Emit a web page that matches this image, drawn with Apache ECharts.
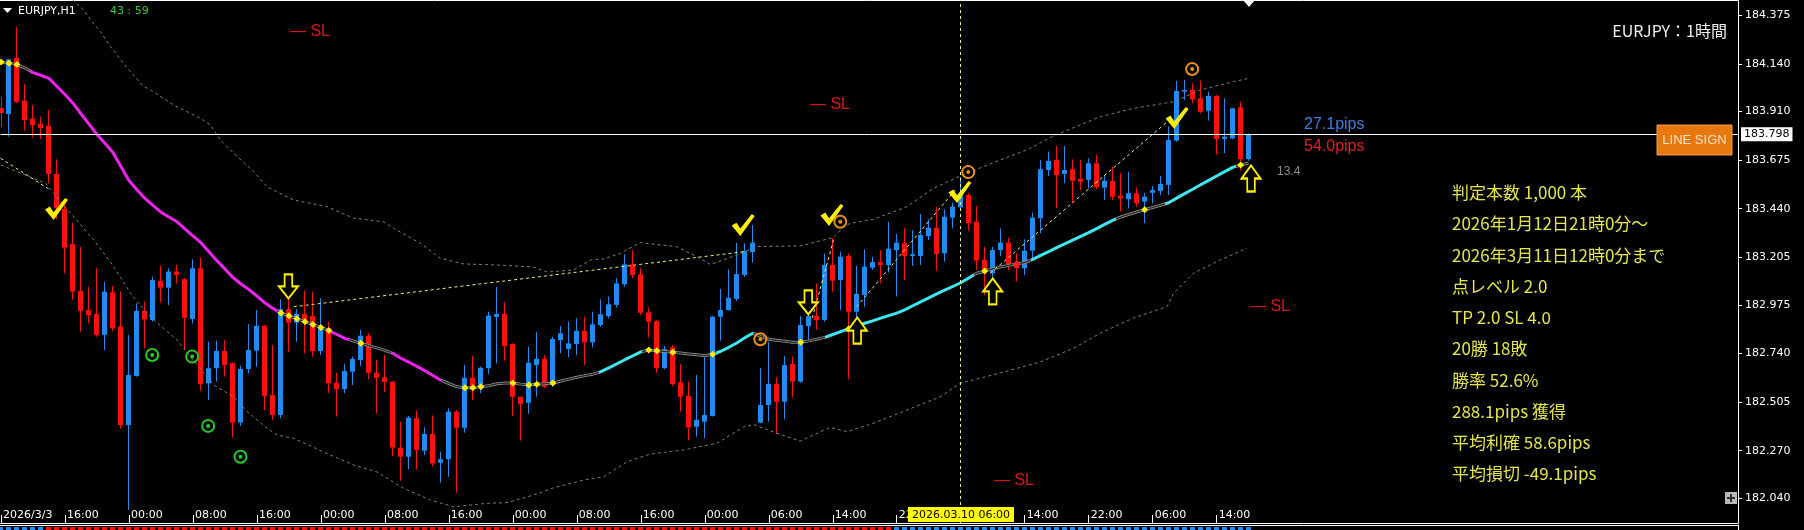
<!DOCTYPE html>
<html><head><meta charset="utf-8">
<script src="https://cdn.jsdelivr.net/npm/echarts/dist/echarts.min.js"></script>
<style>html,body{margin:0;padding:0;background:#000;overflow:hidden}#c{width:1804px;height:530px}</style>
</head><body><div id="c"></div>
<script>
// ---------- DATA ----------
const symbolTitle = 'EURJPY,H1';
const countdown = '43 : 59';
const chartTitle = 'EURJPY：1時間';
const opens=[183.927,183.898,184.169,183.962,183.875,183.850,183.840,183.608,183.439,183.269,
183.042,182.950,182.931,182.830,183.036,182.870,182.394,182.631,182.946,182.902,
183.091,183.058,183.136,183.099,182.907,183.152,182.596,182.669,182.752,182.693,
182.406,182.665,182.754,182.874,182.539,182.443,182.954,182.889,182.931,182.921,
182.752,182.862,182.599,182.568,182.652,182.709,182.826,182.647,182.625,182.604,
182.285,182.241,182.427,182.270,182.351,182.212,182.229,182.459,182.381,182.623,
182.580,182.669,182.917,182.931,182.786,182.531,182.502,182.684,182.714,182.588,
182.805,182.762,182.786,182.849,182.794,182.878,182.921,182.975,183.075,183.171,
183.123,182.939,182.897,182.669,182.770,182.601,182.535,182.386,182.410,182.438,
182.918,182.950,183.004,183.120,183.231,182.406,182.491,182.593,182.507,182.689,
182.604,182.873,182.921,182.902,183.168,183.095,183.211,182.942,183.023,183.155,
183.182,183.168,183.240,183.273,183.211,183.211,183.308,183.348,183.224,183.397,
183.447,183.506,183.377,183.192,183.128,183.240,183.276,183.171,183.152,183.237,
183.394,183.627,183.676,183.608,183.631,183.584,183.579,183.660,183.542,183.574,
183.503,183.486,183.515,183.474,183.517,183.526,183.555,183.769,184.006,184.014,
183.974,183.914,183.985,183.777,183.780,183.930,183.680];
const highs=[183.980,184.165,184.318,184.043,183.941,183.885,183.917,183.679,183.474,183.372,
183.256,183.063,183.152,183.087,183.066,183.039,182.830,182.983,182.991,183.111,
183.165,183.152,183.168,183.105,183.195,183.205,182.797,182.802,182.805,182.697,
182.681,182.883,182.950,182.878,182.781,183.002,183.095,182.954,183.044,183.039,
183.007,182.894,182.647,182.689,182.725,182.854,182.838,182.709,182.733,182.606,
182.410,182.438,182.464,182.383,182.441,182.265,182.475,182.467,182.684,182.728,
182.676,182.942,183.063,182.988,182.790,182.533,182.773,182.845,182.733,182.821,
182.873,182.894,182.910,182.918,182.942,183.002,183.015,183.104,183.220,183.240,
183.152,182.963,182.900,182.776,182.781,182.689,182.604,182.636,182.728,182.920,
183.052,183.147,183.276,183.273,183.361,182.669,182.797,182.625,182.728,182.725,
182.921,183.018,183.076,183.224,183.297,183.232,183.224,183.163,183.244,183.208,
183.240,183.377,183.318,183.345,183.337,183.414,183.389,183.450,183.437,183.469,
183.593,183.515,183.453,183.256,183.256,183.345,183.300,183.224,183.292,183.421,
183.676,183.716,183.743,183.743,183.679,183.676,183.684,183.700,183.603,183.643,
183.614,183.619,183.542,183.515,183.550,183.598,183.837,184.057,184.062,184.046,
184.059,184.006,183.990,183.974,183.928,183.957,183.803];
const lows=[183.835,183.788,183.950,183.817,183.785,183.776,183.563,183.389,183.128,182.999,
182.845,182.886,182.821,182.757,182.849,182.378,181.985,182.628,182.765,182.894,
182.986,182.975,183.079,182.757,182.886,182.560,182.515,182.604,182.628,182.335,
182.390,182.644,182.676,182.467,182.419,182.427,182.749,182.797,182.741,182.725,
182.733,182.548,182.435,182.548,182.588,182.680,182.615,182.451,182.555,182.245,
182.125,182.180,182.180,182.249,182.193,182.115,182.144,182.067,182.357,182.515,
182.548,182.641,182.693,182.705,182.439,182.319,182.448,182.531,182.572,182.580,
182.741,182.722,182.733,182.684,182.770,182.870,182.910,182.963,183.063,183.104,
182.926,182.818,182.647,182.664,182.583,182.459,182.322,182.338,182.330,182.435,
182.802,182.948,182.995,183.111,183.179,182.403,182.410,182.351,182.422,182.528,
182.599,182.797,182.854,182.894,183.039,182.950,182.615,182.838,182.966,183.144,
183.079,183.131,183.015,183.095,183.163,183.168,183.289,183.140,183.184,183.345,
183.443,183.334,183.144,183.023,183.099,183.211,183.144,183.087,183.120,183.192,
183.321,183.598,183.442,183.563,183.469,183.530,183.539,183.534,183.482,183.482,
183.426,183.442,183.450,183.370,183.466,183.506,183.506,183.764,183.966,183.950,
183.901,183.866,183.700,183.708,183.776,183.624,183.672];
const closes=[183.903,184.162,183.957,183.869,183.845,183.830,183.608,183.442,183.252,183.039,
182.947,182.926,182.830,183.039,182.862,182.394,182.636,182.946,182.905,183.095,
183.058,183.136,183.120,182.912,183.152,182.593,182.669,182.752,182.684,182.406,
182.665,182.757,182.874,182.535,182.443,182.954,182.889,182.931,182.894,182.752,
182.862,182.596,182.568,182.655,182.714,182.826,182.647,182.623,182.602,182.285,
182.241,182.430,182.274,182.351,182.209,182.229,182.459,182.381,182.623,182.580,
182.671,182.923,182.931,182.776,182.531,182.496,182.696,182.714,182.580,182.810,
182.838,182.789,182.849,182.794,182.881,182.930,182.978,183.079,183.171,183.120,
182.937,182.894,182.669,182.762,182.593,182.531,182.383,182.419,182.443,182.918,
182.950,183.010,183.124,183.236,183.276,182.491,182.593,182.507,182.684,182.604,
182.878,182.921,182.902,183.168,183.092,183.208,182.942,183.028,183.160,183.182,
183.168,183.247,183.276,183.211,183.220,183.313,183.348,183.221,183.401,183.450,
183.506,183.370,183.189,183.128,183.240,183.276,183.173,183.152,183.237,183.397,
183.631,183.671,183.603,183.627,183.575,183.571,183.660,183.544,183.575,183.498,
183.490,183.515,183.466,183.498,183.530,183.560,183.772,184.009,184.014,183.969,
183.909,183.985,183.777,183.788,183.925,183.680,183.798];
const maValues=[184.149,184.143,184.137,184.120,184.098,184.085,184.070,184.031,183.992,183.950,
183.899,183.849,183.799,183.756,183.712,183.644,183.576,183.532,183.490,183.456,
183.423,183.400,183.377,183.343,183.309,183.276,183.232,183.189,183.149,183.108,
183.076,183.049,183.018,182.985,182.958,182.936,182.922,182.908,182.894,182.880,
182.866,182.851,182.832,182.813,182.801,182.790,182.778,182.767,182.755,182.741,
182.717,182.698,182.678,182.657,182.634,182.611,182.595,182.579,182.575,182.575,
182.579,182.584,182.594,182.597,182.597,182.592,182.588,182.591,182.594,182.597,
182.607,182.616,182.625,182.633,182.640,182.652,182.671,182.690,182.710,182.729,
182.748,182.757,182.753,182.750,182.746,182.742,182.738,182.734,182.729,182.736,
182.751,182.770,182.791,182.816,182.838,182.823,182.809,182.804,182.799,182.794,
182.794,182.801,182.809,182.818,182.832,182.846,182.860,182.874,182.886,182.898,
182.911,182.923,182.935,182.951,182.971,182.990,183.009,183.028,183.046,183.064,
183.082,183.105,183.128,183.139,183.149,183.159,183.166,183.173,183.180,183.195,
183.214,183.233,183.252,183.270,183.288,183.306,183.324,183.344,183.364,183.384,
183.400,183.412,183.424,183.435,183.446,183.457,183.469,183.491,183.513,183.534,
183.556,183.577,183.598,183.619,183.640,183.651,183.661];
// MA trend state by bar range: [fromBar, toBar, state]
const maTrend=[[-1,3.5,'flat'],[3.5,34.5,'down'],[34.5,41,'flat'],[41,43.5,'down'],[43.5,48.8,'flat'],
[48.8,55.2,'down'],[55.2,74.8,'flat'],[74.8,80.2,'up'],[80.2,89.4,'flat'],[89.4,94,'up'],[94,103,'flat'],
[103,121.7,'up'],[121.7,128.8,'flat'],[128.8,139.4,'up'],[139.4,145.6,'flat'],[145.6,154.4,'up'],[154.4,200,'flat']];
const upperBand=[[8,184.497],[9,184.449],[10.31,184.401],[11.56,184.336],[12.44,184.296],[13.69,184.223],[15.78,184.120],
[17.85,184.030],[18.69,184.014],[21.6,183.941],[24.94,183.877],[26.19,183.845],[27.44,183.772],[29.1,183.708],[31.6,183.619],
[33.28,183.546],[34.53,183.521],[36.6,183.482],[40.78,183.450],[44.1,183.394],[46.19,183.385],[47.85,183.376],[49.1,183.345],
[52.44,183.273],[54.94,183.200],[57.85,183.173],[62.03,183.168],[66.6,183.158],[68.28,183.134],[71.6,183.144],[73.69,183.192],
[75.35,183.197],[77.44,183.224],[79.94,183.276],[84.53,183.256],[87.03,183.208],[88.69,183.170],[92.03,183.216],[94.53,183.257],
[99.94,183.260],[104.1,183.301],[105.35,183.353],[106.19,183.369],[109.1,183.389],[113.28,183.450],[116.6,183.539],[119.94,183.598],
[124.94,183.676],[128.28,183.724],[131.6,183.792],[137.44,183.885],[141.6,183.925],[146.6,183.957],[149.94,184.014],[154.1,184.054],[156,184.070]];
const lowerBand=[[0,183.651],[5.56,183.563],[8.69,183.418],[11.6,183.289],[14.1,183.160],[16.19,183.031],[18.28,182.934],[19.1,182.902],
[22.03,182.805],[23.69,182.725],[26.6,182.588],[29.1,182.531],[30.78,182.459],[33.28,182.378],[34.53,182.346],[36.6,182.330],
[41.19,182.249],[44.1,182.201],[47.03,182.167],[50.35,182.088],[53.69,182.032],[56.6,181.999],[60.78,182.016],[63.28,182.019],
[66.6,182.056],[69.1,182.091],[72.85,182.128],[75.35,182.144],[78.28,182.217],[81.19,182.254],[85.35,182.274],[89.53,182.306],
[92.85,182.385],[94.1,182.397],[97.03,182.354],[99.94,182.317],[103.69,182.383],[105.78,182.362],[109.1,182.403],[113.28,182.467],
[117.44,182.531],[119.94,182.596],[124.94,182.646],[129.94,182.699],[134.1,182.765],[137.44,182.838],[141.6,182.912],[145.78,182.966],
[146.6,183.031],[149.1,183.128],[152.44,183.192],[155.78,183.249]];
const tradeLines=[[[-0.06,183.684],[6.19,183.530]],[[36.6,182.966],[92.85,183.232]],[[101.44,182.912],[104.19,183.303]],
[[107.0,182.966],[119.3,183.530]],[[123.7,183.129],[145.8,183.859]]];
const checkMarks=[[6.94,183.439],[92.8,183.361],[103.9,183.410],[119.9,183.521],[147.06,183.879]];
const orangeCircles=[[94.94,182.809],[104.94,183.377],[120.94,183.617],[148.94,184.115]];
const greenCircles=[[18.9,182.733],[23.9,182.725],[25.9,182.390],[29.94,182.241]];
const downArrows=[[35.94,183.064],[100.94,182.987]];
const upArrows=[[107.06,182.851],[124.0,183.040],[156.3,183.586]];
const signalBars=[0,1,2,35,36,37,38,39,40,41,45,58,59,60,64,66,67,69,81,82,84,89,100,106,123,143,155];
const redDotBars=[127];
const stripSegments=[[0,5,1],[6,111,-1],[112,156,1]];
const timeTickBars=[0,8,16,24,32,40,48,56,64,72,80,88,96,104,112,120,128,136,144,152];
const timeTickLabels=['2026/3/3','16:00','00:00','08:00','16:00','00:00','08:00','16:00','00:00','08:00','16:00','00:00','06:00','14:00','22:00','06:00','14:00','22:00','06:00','14:00'];
const priceTicks=[184.375,184.140,183.910,183.675,183.440,183.205,182.975,182.740,182.505,182.270,182.040];
const currentPrice=183.798;
const crosshairBar=120, crosshairLabel='2026.03.10 06:00';
const slLabels=['— SL','— SL','— SL','— SL'];
const pipsUp='27.1pips', pipsDown='54.0pips', spreadText='13.4';
const statsLines=['判定本数 1,000 本','2026年1月12日21時0分～','2026年3月11日12時0分まで','点レベル 2.0','TP 2.0 SL 4.0','20勝 18敗','勝率 52.6%','288.1pips 獲得','平均利確 58.6pips','平均損切 -49.1pips'];

// ---------- STYLE ----------
const BLUE='#1e8cf0', RED='#ff1010', MAG='#ee22ee', CYAN='#3ee6f0', GRAY='#858585', YEL='#ffee00', ORANGE='#e8901e', GREEN='#22cc22';
const trendColor={down:MAG,up:CYAN,flat:GRAY};
const innerColor={down:'rgba(0,0,0,0)',up:'rgba(0,0,0,0)',flat:'#2a2a2a'};
const AX='"DejaVu Sans", sans-serif';
const XMIN=-0.0625, XMAX=217.1875, YMIN=181.9206, YMAX=184.449;

const candleData=opens.map((o,i)=>[i,o,closes[i],lows[i],highs[i]]);
const stripData=[];
stripSegments.forEach(s=>{for(let i=s[0];i<=s[1];i++)stripData.push([i,s[2]]);});
const maData=maValues.map((v,i)=>[i,v]);

const series=[];
series.push({type:'custom',name:'candles',xAxisIndex:0,yAxisIndex:0,z:2,clip:true,data:candleData,encode:{x:0,y:[1,2,3,4]},
 renderItem:(params,api)=>{
  const i=api.value(0),o=api.value(1),c=api.value(2),l=api.value(3),h=api.value(4);
  const px=api.coord([i,o]);const x=Math.floor(px[0]);
  const yO=px[1],yC=api.coord([i,c])[1],yL=api.coord([i,l])[1],yH=api.coord([i,h])[1];
  const col=c>=o?BLUE:RED;const top=Math.min(yO,yC),bot=Math.max(yO,yC);
  return {type:'group',children:[
   {type:'line',shape:{x1:x+0.5,y1:yH,x2:x+0.5,y2:yL},style:{stroke:col,lineWidth:1}},
   {type:'rect',shape:{x:x-2,y:top,width:5,height:Math.max(bot-top,1.5)},style:{fill:col}}]};
 }});
series.push({type:'line',name:'ma',xAxisIndex:0,yAxisIndex:0,z:3,symbol:'none',data:maData,lineStyle:{width:3},
 markLine:{silent:true,symbol:['none','none'],animation:false,data:[
  {yAxis:currentPrice,lineStyle:{color:'#fff',width:1,type:'solid'},label:{show:true,position:'end',distance:3,formatter:currentPrice.toFixed(3),
   backgroundColor:'#fff',color:'#000',padding:[2,3,1,3],fontSize:11,fontFamily:AX}},
  {xAxis:crosshairBar,lineStyle:{color:'#eeee90',width:1,type:[3,3]},label:{show:false}}]}});
series.push({type:'line',name:'maInner',xAxisIndex:0,yAxisIndex:0,z:3,symbol:'none',data:maData,lineStyle:{width:1}});
series.push({type:'line',name:'upper',z:3,symbol:'none',data:upperBand,lineStyle:{color:'#7d7d7d',width:1,type:[3,3]}});
series.push({type:'line',name:'lower',z:3,symbol:'none',data:lowerBand,lineStyle:{color:'#7d7d7d',width:1,type:[3,3]}});
tradeLines.forEach(t=>series.push({type:'line',z:3,symbol:'none',data:t,lineStyle:{color:'#f4f070',width:1,type:[3,3]}}));
const checkPath='path://M0,12 L5,9 L9,15 L21,0 L24,2 L9,23 Z';
const downPath='path://M6,0 L14,0 L14,13 L20,13 L10,26 L0,13 L6,13 Z';
const upPath='path://M10,0 L20,13 L14,13 L14,26 L6,26 L6,13 L0,13 Z';
series.push({type:'scatter',z:5,data:checkMarks,symbol:checkPath,symbolSize:[23,22],itemStyle:{color:YEL,opacity:1}});
series.push({type:'scatter',z:5,data:orangeCircles,symbol:'circle',symbolSize:12,itemStyle:{color:'rgba(0,0,0,0)',borderColor:ORANGE,borderWidth:2,opacity:1}});
series.push({type:'scatter',z:5,data:orangeCircles,symbol:'circle',symbolSize:4,itemStyle:{color:ORANGE,opacity:1}});
series.push({type:'scatter',z:5,data:greenCircles,symbol:'circle',symbolSize:12,itemStyle:{color:'rgba(0,0,0,0)',borderColor:GREEN,borderWidth:2,opacity:1}});
series.push({type:'scatter',z:5,data:greenCircles,symbol:'circle',symbolSize:4,itemStyle:{color:GREEN,opacity:1}});
series.push({type:'scatter',z:5,data:downArrows,symbol:downPath,symbolSize:[19,24],itemStyle:{color:'#000',borderColor:YEL,borderWidth:2,opacity:1}});
series.push({type:'scatter',z:5,data:upArrows,symbol:upPath,symbolSize:[19,26],itemStyle:{color:'#000',borderColor:YEL,borderWidth:2,opacity:1}});
series.push({type:'scatter',z:4,data:signalBars.map(b=>[b,maValues[b]]),symbol:'diamond',symbolSize:7,itemStyle:{color:YEL,opacity:1}});
series.push({type:'scatter',z:4,data:redDotBars.map(b=>[b,maValues[b]]),symbol:'diamond',symbolSize:8,itemStyle:{color:'#ff2020',opacity:1}});
series.push({type:'custom',name:'strip',xAxisIndex:2,yAxisIndex:1,z:2,data:stripData,encode:{x:0},
 renderItem:(params,api)=>{const i=api.value(0),s=api.value(1);const x=Math.floor(api.coord([i,0.5])[0]);const cs=params.coordSys;
  return {type:'rect',shape:{x:x-2,y:cs.y+2,width:5,height:cs.height-2},style:{fill:s>0?BLUE:RED}};}});

const option={
 backgroundColor:'#000',animation:false,
 grid:[{left:0,top:0,width:1738,height:523},{left:0,top:525,width:1738,height:5}],
 visualMap:[
  {type:'piecewise',show:false,seriesIndex:1,dimension:0,
   pieces:maTrend.map(s=>({gte:s[0],lt:s[1],color:trendColor[s[2]]})),outOfRange:{color:GRAY}},
  {type:'piecewise',show:false,seriesIndex:2,dimension:0,
   pieces:maTrend.map(s=>({gte:s[0],lt:s[1],color:innerColor[s[2]]})),outOfRange:{color:'rgba(0,0,0,0)'}}],
 xAxis:[
  {gridIndex:0,type:'value',min:XMIN,max:XMAX,position:'bottom',splitLine:{show:false},
   axisLine:{show:true,onZero:false,lineStyle:{color:'#fff',width:1}},
   axisTick:{show:true,inside:true,length:8,customValues:timeTickBars,lineStyle:{color:'#fff'}},
   axisLabel:{inside:true,margin:2,customValues:timeTickBars,align:'left',padding:[0,0,0,2],color:'#fff',fontSize:11,fontFamily:AX,
    formatter:v=>{const k=timeTickBars.indexOf(Math.round(v));return k>=0?timeTickLabels[k]:'';}}},
  {gridIndex:0,type:'value',min:XMIN,max:XMAX,position:'top',splitLine:{show:false},axisLine:{show:true,onZero:false,lineStyle:{color:'#fff'}},axisTick:{show:false},axisLabel:{show:false}},
  {gridIndex:1,type:'value',min:XMIN,max:XMAX,position:'top',splitLine:{show:false},axisLine:{show:true,onZero:false,lineStyle:{color:'#fff'}},axisTick:{show:false},axisLabel:{show:false}}],
 yAxis:[
  {gridIndex:0,type:'value',min:YMIN,max:YMAX,position:'right',splitLine:{show:false},
   axisLine:{show:true,onZero:false,lineStyle:{color:'#fff'}},
   axisTick:{show:true,length:4,customValues:priceTicks,lineStyle:{color:'#fff'}},
   axisLabel:{customValues:priceTicks,margin:7,color:'#fff',fontSize:11,fontFamily:AX,formatter:v=>v.toFixed(3)}},
  {gridIndex:1,type:'value',min:0,max:1,position:'right',splitLine:{show:false},axisLine:{show:true,onZero:false,lineStyle:{color:'#fff'}},axisTick:{show:false},axisLabel:{show:false}}],
 series:series
};
const chart=echarts.init(document.getElementById('c'),null,{width:1804,height:530});
chart.setOption(option);

// ---------- annotations ----------
const cx=chart.convertToPixel({xAxisIndex:0,yAxisIndex:0},[crosshairBar,YMIN])[0];
const T=(x,y,text,st)=>({type:'text',x:x,y:y,z:100,style:Object.assign({text:text,fill:'#fff',fontSize:11,fontFamily:AX,verticalAlign:'middle',align:'left'},st||{})});
const slPos=[[290,32],[810,105],[1250,307],[994,481]];
const g=[
 {type:'polygon',z:100,shape:{points:[[3,8],[12,8],[7.5,13]]},style:{fill:'#fff'}},
 T(18,11,symbolTitle),
 T(110,11,countdown,{fill:'#3ec83e'}),
 T(1727,31,chartTitle,{align:'right',fontSize:16,fontFamily:'"Noto Sans CJK JP", sans-serif',fill:'#f0f0f0'}),
 T(1304,124.5,pipsUp,{fontSize:16,fontFamily:'"Liberation Sans", Arial, sans-serif',fill:'#3d80dc'}),
 T(1304,147,pipsDown,{fontSize:16,fontFamily:'"Liberation Sans", Arial, sans-serif',fill:'#e01e1e'}),
 T(1277,172,spreadText,{fontSize:12,fontFamily:'"Liberation Sans", Arial, sans-serif',fill:'#8c8c8c'}),
 {type:'rect',z:100,shape:{x:1657,y:125,width:75,height:30},style:{fill:'#e8780e',stroke:'#f2a04a',lineWidth:1}},
 T(1694.5,140.5,'LINE SIGN',{align:'center',fontSize:13,fontFamily:'"Liberation Sans", Arial, sans-serif',fill:'#fde3c8'}),
 {type:'rect',z:100,shape:{x:1725,y:492,width:12,height:12},style:{fill:'#b8b8b8'}},
 {type:'rect',z:101,shape:{x:1730,y:494,width:2,height:8},style:{fill:'#303030'}},
 {type:'rect',z:101,shape:{x:1727,y:497,width:8,height:2},style:{fill:'#303030'}},
 {type:'polygon',z:100,shape:{points:[[1243,0],[1255,0],[1249,7]]},style:{fill:'#fff'}},
 {type:'rect',z:100,shape:{x:Math.round(cx)-53,y:507,width:106,height:15},style:{fill:'#ffff00'}},
 T(Math.round(cx),515,crosshairLabel,{align:'center',fill:'#000'})
];
slPos.forEach((p,k)=>g.push(T(p[0],p[1],slLabels[k],{fontSize:16,fontFamily:'"Liberation Sans", Arial, sans-serif',fill:'#dd1414'})));
statsLines.forEach((s,k)=>g.push(T(1452,192.7+k*31.25,s,{fontSize:17,fontFamily:'"Noto Sans CJK JP", sans-serif',fill:'#e4e44e'})));
chart.setOption({graphic:g});
</script></body></html>
